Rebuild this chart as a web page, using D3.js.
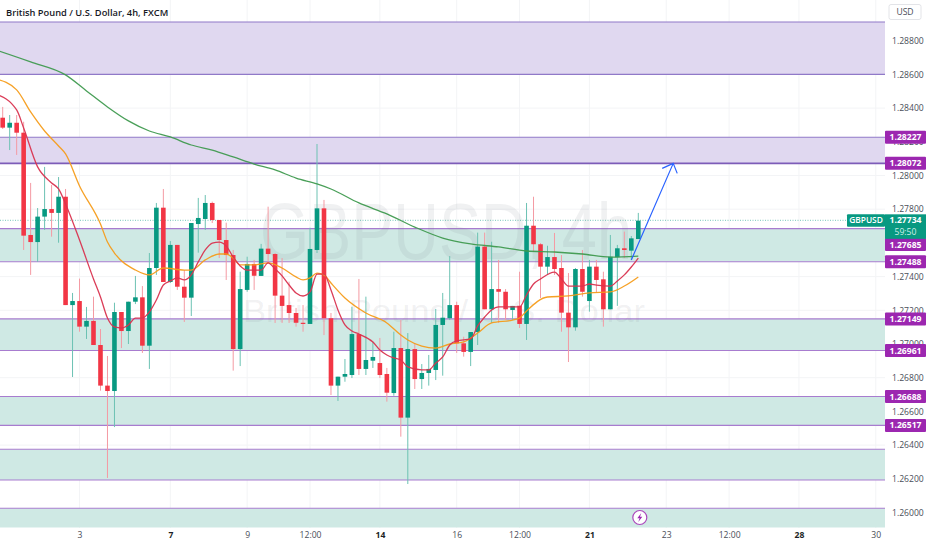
<!DOCTYPE html>
<html lang="en">
<head>
<meta charset="UTF-8">
<title>GBPUSD 4h</title>
<script src="https://d3js.org/d3.v7.min.js"></script>
<style>
    html, body { margin: 0; padding: 0; background: #fff; }
    svg { display: block; }
    text { font-family: "Open Sans", "Noto Sans", sans-serif; }
    .axis path, .axis line { display: none; }
    .axis text { fill: #4a4e58; font-size: 8.6px; }
</style>
</head>
<body>
<svg id="chart" width="932" height="550"></svg>
<script>
// candles, oldest first
const opens  = [1.28343,1.28284,1.28313,1.28254,1.27647,1.27605,1.27756,1.27801,1.27778,1.27874,1.27231,1.27255,1.27103,1.27137,1.26994,1.26753,1.26721,1.27190,1.27077,1.27251,1.27277,1.26990,1.27451,1.27809,1.27368,1.27588,1.27340,1.27275,1.27712,1.27742,1.27837,1.27736,1.27617,1.27528,1.26970,1.27321,1.27475,1.27404,1.27566,1.27534,1.27287,1.27231,1.27184,1.27126,1.27119,1.27558,1.27805,1.27153,1.26753,1.26806,1.26816,1.27059,1.26852,1.26901,1.26887,1.26822,1.26709,1.26976,1.26563,1.26970,1.26792,1.26828,1.26846,1.27113,1.27153,1.27231,1.27004,1.26953,1.27071,1.27578,1.27206,1.27326,1.27310,1.27202,1.27227,1.27119,1.27702,1.27592,1.27459,1.27516,1.27451,1.27186,1.27099,1.27445,1.27255,1.27459,1.27384,1.27206,1.27515,1.27568,1.27554,1.27623];
const highs  = [1.28407,1.28359,1.28359,1.28319,1.27956,1.27807,1.28051,1.27944,1.27991,1.27920,1.27303,1.27388,1.27220,1.27281,1.27089,1.26929,1.27245,1.27190,1.27251,1.27404,1.27344,1.27540,1.27837,1.27920,1.27611,1.27588,1.27439,1.27718,1.27867,1.27884,1.27845,1.27736,1.27720,1.27558,1.27429,1.27518,1.27499,1.27594,1.27815,1.27540,1.27510,1.27370,1.27214,1.27231,1.27690,1.28187,1.27855,1.27184,1.26806,1.26911,1.27221,1.27386,1.27281,1.27014,1.27036,1.26858,1.27073,1.27142,1.27065,1.27006,1.26881,1.26935,1.27208,1.27303,1.27522,1.27251,1.27043,1.27071,1.27661,1.27661,1.27607,1.27499,1.27326,1.27226,1.27429,1.27837,1.27874,1.27599,1.27583,1.27659,1.27528,1.27421,1.27451,1.27558,1.27499,1.27499,1.27429,1.27647,1.27588,1.27667,1.27641,1.27778];
const lows   = [1.28276,1.28151,1.28122,1.27558,1.27410,1.27488,1.27677,1.27637,1.27601,1.27231,1.26804,1.27073,1.27030,1.26994,1.26723,1.26205,1.26507,1.26976,1.27000,1.27237,1.26947,1.26852,1.27410,1.27368,1.27362,1.27321,1.27131,1.27166,1.27542,1.27677,1.27718,1.27510,1.27380,1.26842,1.26869,1.27310,1.27321,1.27404,1.27481,1.27125,1.27125,1.27125,1.27103,1.27073,1.27119,1.27540,1.27053,1.26697,1.26662,1.26776,1.26798,1.26816,1.26816,1.26858,1.26798,1.26658,1.26693,1.26450,1.26169,1.26733,1.26733,1.26753,1.26786,1.26812,1.27142,1.26947,1.26925,1.26869,1.26994,1.27206,1.27125,1.27125,1.27142,1.27142,1.27095,1.27024,1.27546,1.27273,1.27410,1.27410,1.27073,1.26893,1.27079,1.27281,1.27192,1.27303,1.27103,1.27206,1.27226,1.27510,1.27499,1.27623];
const closes = [1.28284,1.28313,1.28254,1.27643,1.27605,1.27756,1.27801,1.27778,1.27874,1.27231,1.27255,1.27103,1.27137,1.26994,1.26753,1.26721,1.27190,1.27077,1.27251,1.27277,1.26990,1.27451,1.27809,1.27368,1.27588,1.27340,1.27275,1.27718,1.27748,1.27837,1.27736,1.27617,1.27528,1.26970,1.27326,1.27475,1.27405,1.27566,1.27534,1.27287,1.27226,1.27184,1.27126,1.27119,1.27564,1.27805,1.27153,1.26753,1.26806,1.26822,1.27059,1.26852,1.26905,1.26923,1.26816,1.26711,1.26976,1.26563,1.26970,1.26792,1.26828,1.26852,1.27113,1.27156,1.27231,1.27004,1.26953,1.27071,1.27578,1.27206,1.27326,1.27310,1.27206,1.27226,1.27119,1.27702,1.27592,1.27459,1.27516,1.27445,1.27186,1.27099,1.27445,1.27310,1.27459,1.27380,1.27206,1.27518,1.27568,1.27558,1.27627,1.27732];

// moving averages: candle index and price, read at the visible bends
const greenIdx = [-1,4,9,12,15,18,21,24,27,30,33,36,39,42,45,47,51,55,59,63,67,71,75,79,83,87,91];
const greenMa  = [1.28745,1.28674,1.28597,1.28502,1.28407,1.28324,1.28264,1.28229,1.28181,1.28151,1.28110,1.28068,1.28033,1.27985,1.27950,1.27920,1.27837,1.27772,1.27694,1.27629,1.27594,1.27576,1.27552,1.27546,1.27534,1.27516,1.27522];
const orangeIdx = [-1,2,4,6,8,9,11,14,15,16,19,21,23,26,27,29,31,32,33,34,36,38,40,42,43,44,45,46,47,49,52,55,57,58,60,62,64,66,68,70,73,74,75,78,81,84,87,89,91];
const orangeMa  = [1.28573,1.28508,1.28377,1.28264,1.28175,1.28128,1.27938,1.27712,1.27605,1.27540,1.27439,1.27410,1.27451,1.27439,1.27439,1.27499,1.27534,1.27534,1.27510,1.27469,1.27469,1.27481,1.27451,1.27398,1.27380,1.27392,1.27421,1.27410,1.27362,1.27273,1.27184,1.27125,1.27053,1.27024,1.26988,1.26976,1.27000,1.27012,1.27065,1.27125,1.27142,1.27154,1.27196,1.27279,1.27285,1.27303,1.27309,1.27344,1.27398];
const redIdx = [-1,2,3,5,7,8,9,11,13,14,15,16,17,18,19,20,21,22,23,24,25,26,27,28,29,30,31,32,33,34,35,36,37,38,39,40,41,42,43,44,45,46,47,48,49,50,51,53,54,55,56,57,58,60,61,62,63,64,65,67,68,69,70,71,74,75,76,77,79,80,81,83,84,85,87,88,89,90,91];
const redMa  = [1.28484,1.28389,1.28282,1.28051,1.27956,1.27920,1.27831,1.27617,1.27386,1.27279,1.27154,1.27101,1.27095,1.27113,1.27154,1.27154,1.27190,1.27261,1.27350,1.27374,1.27392,1.27380,1.27410,1.27487,1.27558,1.27599,1.27605,1.27582,1.27516,1.27463,1.27439,1.27439,1.27439,1.27481,1.27445,1.27404,1.27350,1.27303,1.27285,1.27309,1.27415,1.27415,1.27321,1.27202,1.27113,1.27077,1.27059,1.27012,1.26964,1.26935,1.26917,1.26905,1.26864,1.26846,1.26846,1.26887,1.26923,1.26994,1.27018,1.27030,1.27107,1.27160,1.27202,1.27220,1.27220,1.27291,1.27356,1.27386,1.27427,1.27386,1.27344,1.27344,1.27356,1.27350,1.27344,1.27374,1.27410,1.27457,1.27510];

// drawn rectangles, low and high price
const zoneLow   = [1.28600,1.28072,1.27488,1.26961,1.26517,1.26193,1.25911];
const zoneHigh  = [1.28911,1.28227,1.27685,1.27149,1.26688,1.26375,1.26025];
const zoneKind  = ["purple","purple","green","green","green","green","green"];

// 1.27600 sits fully behind a tag in the picture, so it has no label
const priceTicks = [1.288,1.286,1.284,1.282,1.280,1.278,1.274,1.272,1.270,1.268,1.266,1.264,1.262,1.260];
const timeIdx    = [11,24,35,44,54,65,74,84,95,104,114,125];
const timeLabels = ["3","7","9","12:00","14","16","12:00","21","23","12:00","28","30"];
const boldLabels = ["7","14","21","28"];

// price tags on the axis: value, and the price where the tag sits after collision shift
const tagValues = ["1.28227","1.28072","1.27685","1.27488","1.27149","1.26961","1.26688","1.26517"];
const tagPrices = [1.28227,1.28072,1.27590,1.27488,1.27149,1.26961,1.26688,1.26517];

const lastPrice = 1.27734;

// arrow, from the last candles up to the level
const arrowIdx = [90,96];
const arrowPrice = [1.27499,1.28072];

const W = 932, H = 550;
const plotRight = 885, plotBottom = 528;

const svg = d3.select("#chart");

const x = d3.scaleLinear().domain([0,91]).range([2.7,638.3]);
const y = d3.scaleLinear().domain([1.26,1.288]).range([512.5,40.7]);

svg.append("defs").append("clipPath").attr("id","plot")
    .append("rect").attr("x",0).attr("y",0).attr("width",plotRight).attr("height",plotBottom);

const plot = svg.append("g").attr("clip-path","url(#plot)");

// grid
plot.append("g").selectAll("line").data(timeIdx).join("line")
    .attr("x1",d => x(d)).attr("x2",d => x(d)).attr("y1",0).attr("y2",plotBottom)
    .attr("stroke","#f3f4f6");
plot.append("g").selectAll("line").data(priceTicks).join("line")
    .attr("x1",0).attr("x2",plotRight).attr("y1",d => y(d)).attr("y2",d => y(d))
    .attr("stroke","#f3f4f6");

// zones
const zoneFill = { purple: "#e0d8f0", green: "#cfe9e4" };
const zoneLine = { purple: "#9079c8", green: "#a87ccf" };
zoneLow.forEach((lo,i) => {
    const top = y(zoneHigh[i]), bottom = y(lo), k = zoneKind[i];
    plot.append("rect").attr("x",0).attr("width",plotRight).attr("y",top).attr("height",bottom-top)
        .attr("fill",zoneFill[k]);
    plot.append("line").attr("x1",0).attr("x2",plotRight).attr("y1",top).attr("y2",top)
        .attr("stroke",zoneLine[k]).attr("stroke-width",1.1);
    if (i < zoneLow.length-1) {
        plot.append("line").attr("x1",0).attr("x2",plotRight).attr("y1",bottom).attr("y2",bottom)
            .attr("stroke",i == 1 ? "#7d5cb8" : zoneLine[k]).attr("stroke-width",i == 1 ? 1.6 : 1.1);
    }
});

// watermark
plot.append("text").attr("x",260).attr("y",259).attr("textLength",372).attr("lengthAdjust","spacingAndGlyphs")
    .attr("font-size",80).style("font-family","'Liberation Sans'").attr("fill","#787b86").attr("fill-opacity",0.11)
    .text("GBPUSD, 4h");
plot.append("text").attr("x",243).attr("y",322).attr("textLength",402).attr("lengthAdjust","spacingAndGlyphs")
    .attr("font-size",31).style("font-family","'Liberation Sans'").attr("fill","#787b86").attr("fill-opacity",0.11)
    .text("British Pound / U.S. Dollar");

// last price line
plot.append("line").attr("x1",0).attr("x2",plotRight).attr("y1",y(lastPrice)).attr("y2",y(lastPrice))
    .attr("stroke","#089981").attr("stroke-opacity",0.55).attr("stroke-dasharray","1 1.5");

// candles
const candleIdx = d3.range(opens.length);
const col = i => closes[i] >= opens[i] ? "#089981" : "#f23645";
const wickCol = i => closes[i] >= opens[i] ? "#6cc2b3" : "#f49aa3";

plot.append("g").selectAll("line").data(candleIdx).join("line")
    .attr("x1",d => x(d)).attr("x2",d => x(d))
    .attr("y1",d => y(highs[d])).attr("y2",d => y(lows[d]))
    .attr("stroke",wickCol).attr("stroke-width",1);

plot.append("g").selectAll("rect").data(candleIdx).join("rect")
    .attr("x",d => x(d)-2.3).attr("width",4.6)
    .attr("y",d => y(Math.max(opens[d],closes[d])))
    .attr("height",d => Math.max(1.2,Math.abs(y(opens[d])-y(closes[d]))))
    .attr("fill",col);

// moving averages
const maLine = (idx,vals,color) => {
    const gen = d3.line().x(d => x(idx[d])).y(d => y(vals[d])).curve(d3.curveMonotoneX);
    plot.append("path").attr("d",gen(d3.range(idx.length)))
        .attr("fill","none").attr("stroke",color).attr("stroke-width",1.3).attr("stroke-opacity",0.95);
};
maLine(greenIdx,greenMa,"#3f9a4f");
maLine(orangeIdx,orangeMa,"#f59c1a");
maLine(redIdx,redMa,"#d9334f");

// arrow
const ax0 = x(arrowIdx[0]), ay0 = y(arrowPrice[0]), ax1 = x(arrowIdx[1]), ay1 = y(arrowPrice[1]);
plot.append("path")
    .attr("d",`M${ax0},${ay0}L${ax1},${ay1}M${ax1-11},${ay1+5}L${ax1},${ay1}L${ax1+4},${ay1+10}`)
    .attr("fill","none").attr("stroke","#2962ff").attr("stroke-width",1.2);

// event icon
const icon = svg.append("g").attr("transform",`translate(${x(91)+1.5},517.5)`);
icon.append("circle").attr("r",7).attr("fill","#fff").attr("stroke","#ab47bc").attr("stroke-width",1.2);
icon.append("path").attr("d","M1.5,-4.5L-2.5,0.8L-0.2,0.8L-1.5,4.5L2.5,-0.8L0.2,-0.8Z").attr("fill","#9c27b0");

// axes
const priceAxis = d3.axisRight(y).tickValues(priceTicks).tickFormat(d3.format(".5f")).tickSize(0).tickPadding(0);
svg.append("g").attr("class","axis").attr("transform","translate(892,0)").call(priceAxis);

const timeScale = d3.scaleLinear().domain(x.domain()).range(x.range());
const timeAxis = d3.axisBottom(timeScale).tickValues(timeIdx).tickSize(0).tickPadding(0)
    .tickFormat((d,i) => timeLabels[i]);
const tAxis = svg.append("g").attr("class","axis").attr("transform","translate(0,534)").call(timeAxis);
tAxis.selectAll("text")
    .attr("dy","0.5em")
    .style("font-weight",(d,i) => boldLabels.includes(timeLabels[i]) ? 700 : 400)
    .style("fill",(d,i) => boldLabels.includes(timeLabels[i]) ? "#1c1f26" : "#4a4e58");

// axis tags
tagValues.forEach((t,i) => {
    const cy = y(tagPrices[i]);
    svg.append("rect").attr("x",885).attr("y",cy-6.5).attr("width",41).attr("height",13).attr("rx",1).attr("fill","#9c27b0");
    svg.append("text").attr("x",905.5).attr("y",cy+3).attr("text-anchor","middle")
        .attr("fill","#fff").attr("font-size",8.6).attr("font-weight",700).text(t);
});

// current price tag
const py = y(lastPrice);
svg.append("rect").attr("x",885).attr("y",py-6).attr("width",41).attr("height",24.5).attr("fill","#089981");
svg.append("text").attr("x",905.5).attr("y",py+3).attr("text-anchor","middle").attr("fill","#fff")
    .attr("font-size",8.6).attr("font-weight",700).text(lastPrice.toFixed(5));
svg.append("text").attr("x",905.5).attr("y",py+15).attr("text-anchor","middle").attr("fill","#cfeee8")
    .attr("font-size",8.6).text("59:50");
svg.append("rect").attr("x",847).attr("y",py-6).attr("width",38).attr("height",12.5).attr("rx",1).attr("fill","#089981");
svg.append("text").attr("x",866).attr("y",py+3).attr("text-anchor","middle").attr("fill","#fff")
    .attr("font-size",8.4).attr("font-weight",600).text("GBPUSD");

// header
svg.append("text").attr("x",6).attr("y",16).attr("fill","#16181f").attr("font-size",9.3).attr("font-weight",600)
    .text("British Pound / U.S. Dollar, 4h, FXCM");
svg.append("rect").attr("x",889).attr("y",4.5).attr("width",32).attr("height",15).attr("rx",2)
    .attr("fill","#fff").attr("stroke","#e3e4e8");
svg.append("text").attr("x",905).attr("y",15).attr("text-anchor","middle").attr("fill","#4a4e58").attr("font-size",8.6).text("USD");
</script>
</body>
</html>
